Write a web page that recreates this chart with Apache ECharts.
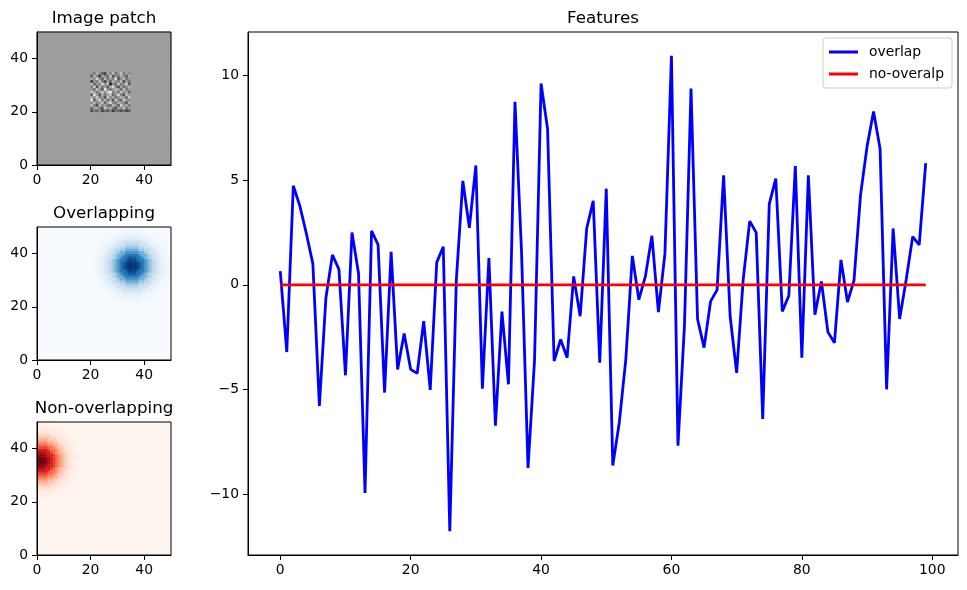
<!DOCTYPE html>
<html>
<head>
<meta charset="utf-8">
<script src="https://cdn.jsdelivr.net/npm/echarts@6.0.0/dist/echarts.min.js"></script>
<style>
html, body { margin: 0; padding: 0; background: #fff; }
#chart { width: 967px; height: 590px; }
</style>
</head>
<body>
<div id="chart"></div>
<script>
// feature curves
var overlap = [
	0.65, -3.21, 4.73, 3.77, 2.45, 1.0, -5.78, -0.63, 1.43, 0.74,
	-4.32, 2.5, 0.55, -9.94, 2.57, 1.92, -5.15, 1.57, -4.04, -2.33,
	-4.04, -4.23, -1.74, -5.02, 1.07, 1.82, -11.77, 0.2, 4.96, 2.72,
	5.7, -4.96, 1.28, -6.73, -1.28, -4.75, 8.74, 1.6, -8.74, -3.6,
	9.61, 7.44, -3.64, -2.61, -3.48, 0.4, -1.5, 2.69, 4.01, -3.72,
	4.59, -8.63, -6.57, -3.56, 1.38, -0.71, 0.4, 2.34, -1.3, 1.5,
	10.93, -7.68, -1.9, 9.37, -1.63, -3.0, -0.79, -0.24, 5.23, -1.5,
	-4.2, 0.24, 3.04, 2.49, -6.41, 3.85, 5.07, -1.27, -0.52, 5.67,
	-3.48, 5.23, -1.43, 0.16, -2.26, -2.77, 1.19, -0.82, 0.21, 4.28,
	6.6, 8.27, 6.49, -4.99, 2.69, -1.63, 0.24, 2.3, 1.9, 5.81
];
var noOverlap = [
	0, 0, 0, 0, 0, 0, 0, 0, 0, 0, 0, 0, 0, 0, 0, 0, 0, 0, 0, 0,
	0, 0, 0, 0, 0, 0, 0, 0, 0, 0, 0, 0, 0, 0, 0, 0, 0, 0, 0, 0,
	0, 0, 0, 0, 0, 0, 0, 0, 0, 0, 0, 0, 0, 0, 0, 0, 0, 0, 0, 0,
	0, 0, 0, 0, 0, 0, 0, 0, 0, 0, 0, 0, 0, 0, 0, 0, 0, 0, 0, 0,
	0, 0, 0, 0, 0, 0, 0, 0, 0, 0, 0, 0, 0, 0, 0, 0, 0, 0, 0, 0
];
var featXTicks = [0, 20, 40, 60, 80, 100];
var featYTicks = [-10, -5, 0, 5, 10];
var patchTicks = [0, 20, 40];

// image patch: grey background + noise block (rows y=34..20, cols x=20..34)
var patchBg = 158;
var patchNoise = [
	[150, 120, 175, 140, 100, 60, 170, 130, 190, 110, 150, 200, 125, 160, 140],
	[95, 180, 130, 60, 165, 140, 105, 200, 85, 150, 120, 175, 140, 95, 170],
	[170, 140, 210, 150, 90, 185, 120, 155, 130, 220, 90, 140, 185, 120, 150],
	[60, 150, 120, 190, 135, 70, 165, 100, 175, 145, 130, 190, 75, 160, 110],
	[185, 100, 160, 130, 210, 145, 180, 30, 140, 110, 200, 120, 155, 200, 90],
	[130, 205, 80, 175, 120, 160, 95, 170, 215, 135, 80, 165, 110, 140, 180],
	[150, 115, 195, 145, 90, 230, 140, 120, 150, 185, 160, 105, 195, 125, 150],
	[200, 170, 120, 160, 200, 140, 210, 235, 130, 165, 120, 200, 140, 170, 100],
	[100, 225, 155, 90, 175, 120, 160, 190, 105, 150, 215, 130, 90, 185, 160],
	[175, 140, 200, 130, 150, 85, 195, 140, 170, 120, 145, 180, 160, 110, 195],
	[225, 100, 165, 210, 120, 180, 110, 160, 90, 200, 130, 100, 205, 150, 135],
	[140, 180, 130, 150, 195, 100, 170, 215, 140, 120, 175, 160, 130, 90, 175],
	[190, 130, 80, 180, 140, 160, 120, 100, 185, 150, 95, 205, 145, 170, 120],
	[110, 160, 170, 120, 95, 200, 150, 175, 130, 80, 165, 140, 190, 120, 160],
	[80, 120, 100, 140, 70, 110, 90, 130, 60, 120, 100, 80, 110, 70, 95]
];
var patchNoiseOrigin = [20, 20];

// blob intensity by distance (cells) from centre
var blobProfile = [1, 0.98, 0.923, 0.835, 0.726, 0.607, 0.487, 0.375, 0.278, 0.198, 0.135, 0.089, 0.056, 0.034, 0.02, 0.011];
var blueCentre = [35, 35];
var redCentre = [1, 35];

var FONT = 'DejaVu Sans';
var greyColors = ['#000000', '#ffffff'];
var blueColors = ['#f7fbff', '#deebf7', '#c6dbef', '#9ecae1', '#6baed6', '#4292c6', '#2171b5', '#08519c', '#08306b'];
var redColors = ['#fff5f0', '#fee0d2', '#fcbba1', '#fc9272', '#fb6a4a', '#ef3b2c', '#cb181d', '#a50f15', '#67000d'];
var panelBg = ['#9e9e9e', '#f7fbff', '#fff5f0'];

var N = 50;
var cells = [];
for (var i = 0; i < N; i++) cells.push(String(i));

function patchCells() {
	var d = [];
	var top = patchNoiseOrigin[1] + patchNoise.length - 1;
	for (var x = 0; x < N; x++) {
		for (var y = 0; y < N; y++) {
			var v = patchBg;
			var cx = x - patchNoiseOrigin[0];
			if (cx >= 0 && cx < patchNoise[0].length && y >= patchNoiseOrigin[1] && y <= top) {
				v = patchNoise[top - y][cx];
			}
			d.push([x, y, v]);
		}
	}
	return d;
}

function blobCells(c) {
	var d = [];
	for (var x = 0; x < N; x++) {
		for (var y = 0; y < N; y++) {
			var r = Math.round(Math.sqrt((x - c[0]) * (x - c[0]) + (y - c[1]) * (y - c[1])));
			d.push([x, y, r < blobProfile.length ? blobProfile[r] : 0]);
		}
	}
	return d;
}

function minus(v) {
	return v < 0 ? '\u2212' + Math.abs(v) : String(v);
}

var black = { color: '#000', width: 1 };
var tickStyle = { color: '#000', fontFamily: FONT, fontSize: 13.9 };

var smallTops = [32, 227, 422];
var smallTitles = ['Image patch', 'Overlapping', 'Non-overlapping'];

var grids = [], xAxes = [], yAxes = [], titles = [], series = [];

for (var g = 0; g < 3; g++) {
	grids.push({
		left: 37, top: smallTops[g], width: 134, height: 133, outerBoundsMode: 'none',
		show: true, backgroundColor: panelBg[g], borderWidth: 0
	});
	titles.push({
		text: smallTitles[g], left: 104, top: smallTops[g] - 22, textAlign: 'center', padding: 0,
		textStyle: { fontFamily: FONT, fontSize: 16.7, fontWeight: 'normal', color: '#000' }
	});
	// category axes carry the cells, value axes carry the ticks
	xAxes.push({
		gridIndex: g, type: 'category', data: cells, show: false
	});
	xAxes.push({
		gridIndex: g, type: 'value', min: 0, max: 50, position: 'bottom', z: 10,
		axisLine: { show: true, onZero: false, lineStyle: black },
		axisTick: { show: true, length: 5, lineStyle: black, customValues: patchTicks },
		axisLabel: { margin: 8, customValues: patchTicks, textStyle: tickStyle },
		splitLine: { show: false }
	});
	yAxes.push({
		gridIndex: g, type: 'category', data: cells, show: false
	});
	yAxes.push({
		gridIndex: g, type: 'value', min: 0, max: 50, position: 'left', z: 10,
		axisLine: { show: true, onZero: false, lineStyle: black },
		axisTick: { show: true, length: 5, lineStyle: black, customValues: patchTicks },
		axisLabel: { margin: 9, customValues: patchTicks, textStyle: tickStyle },
		splitLine: { show: false }
	});
}

var heatData = [patchCells(), blobCells(blueCentre), blobCells(redCentre)];
for (var h = 0; h < 3; h++) {
	series.push({
		type: 'heatmap', xAxisIndex: h * 2, yAxisIndex: h * 2, data: heatData[h],
		progressive: 0, emphasis: { disabled: true }, itemStyle: { borderWidth: 0 }
	});
}

// main panel
grids.push({ left: 248, top: 32, width: 710, height: 523, show: true, borderColor: '#000', borderWidth: 1, outerBoundsMode: 'none' });
titles.push({
	text: 'Features', left: 603, top: 10, textAlign: 'center', padding: 0,
	textStyle: { fontFamily: FONT, fontSize: 16.7, fontWeight: 'normal', color: '#000' }
});
xAxes.push({
	gridIndex: 3, type: 'value', min: -4.95, max: 103.95, position: 'bottom',
	axisLine: { show: true, onZero: false, lineStyle: black },
	axisTick: { show: true, length: 5, lineStyle: black, customValues: featXTicks },
	axisLabel: { margin: 8, customValues: featXTicks, formatter: minus, textStyle: tickStyle },
	splitLine: { show: false }
});
yAxes.push({
	gridIndex: 3, type: 'value', min: -12.9, max: 12.07, position: 'left',
	axisLine: { show: true, onZero: false, lineStyle: black },
	axisTick: { show: true, length: 5, lineStyle: black, customValues: featYTicks },
	axisLabel: { margin: 9, customValues: featYTicks, formatter: minus, textStyle: tickStyle },
	splitLine: { show: false }
});
series.push({
	name: 'overlap', type: 'line', xAxisIndex: 6, yAxisIndex: 6, symbol: 'none',
	lineStyle: { color: '#0000ff', width: 2.8 }, itemStyle: { color: '#0000ff' },
	data: overlap.map(function(v, i) { return [i, v]; })
});
series.push({
	name: 'no-overalp', type: 'line', xAxisIndex: 6, yAxisIndex: 6, symbol: 'none',
	lineStyle: { color: '#ff0000', width: 2.8 }, itemStyle: { color: '#ff0000' },
	data: noOverlap.map(function(v, i) { return [i, v]; })
});

// frames drawn above the image panels
for (var f = 0; f < 3; f++) {
	grids.push({
		left: 37, top: smallTops[f], width: 134, height: 133, outerBoundsMode: 'none', z: 6,
		show: true, backgroundColor: 'transparent', borderColor: '#000', borderWidth: 1
	});
}

var option = {
	animation: false,
	backgroundColor: '#fff',
	title: titles,
	grid: grids,
	xAxis: xAxes,
	yAxis: yAxes,
	visualMap: [
		{ show: false, seriesIndex: 0, min: 0, max: 255, inRange: { color: greyColors } },
		{ show: false, seriesIndex: 1, min: 0, max: 1, inRange: { color: blueColors } },
		{ show: false, seriesIndex: 2, min: 0, max: 1, inRange: { color: redColors } }
	],
	legend: {
		data: ['overlap', 'no-overalp'],
		orient: 'vertical', right: 15, top: 38,
		icon: 'rect', itemWidth: 29, itemHeight: 3, itemGap: 8,
		padding: [7, 8, 7, 6],
		borderColor: '#cccccc', borderWidth: 1, borderRadius: 3,
		backgroundColor: 'rgba(255,255,255,0.8)',
		textStyle: { fontFamily: FONT, fontSize: 13.9, color: '#000', padding: [0, 0, 0, 6] }
	},
	series: series
};

var chart = echarts.init(document.getElementById('chart'), null, { renderer: 'canvas' });
chart.setOption(option);
</script>
</body>
</html>
